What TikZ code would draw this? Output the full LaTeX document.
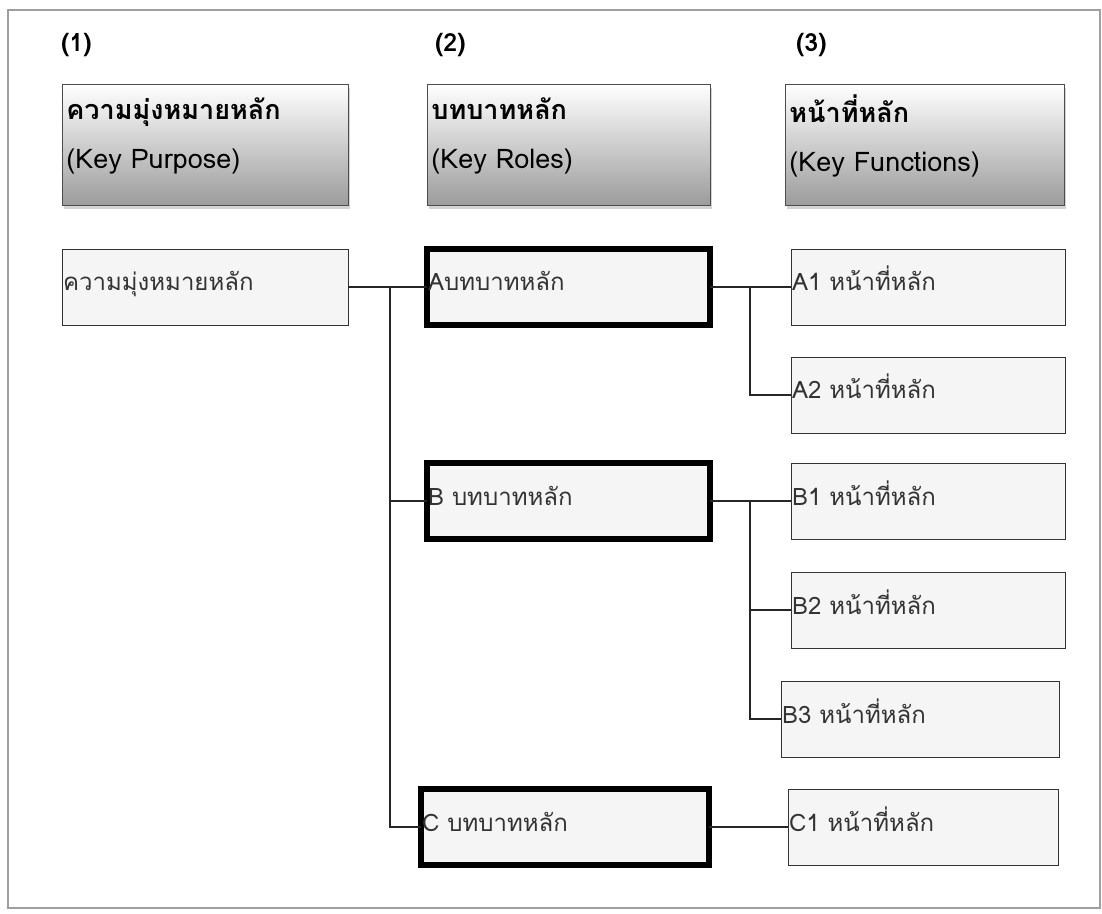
\documentclass[tikz,border=0pt]{standalone}
\usepackage{fontspec}
\setmainfont[Script=Thai]{Loma}
\usetikzlibrary{shadows}

\tikzset{
    head/.style={draw=gray!60!black, top color=white, bottom color=gray!78,
        drop shadow={opacity=0.35, shadow xshift=1pt, shadow yshift=-2pt},
        anchor=north west, minimum height=60.5pt, inner xsep=2pt,
        text width=#1, align=left,
        font=\fontsize{13.5}{24.5}\selectfont},
    item/.style={draw=black!80, fill=gray!8, anchor=north west, outer sep=0pt,
        minimum height=38pt, inner xsep=0.5pt, text width=#1, align=left,
        text height=9pt, text depth=5pt,
        font=\fontsize{12}{15}\selectfont, text=black!80},
    role/.style={item=#1, draw=black, line width=2.6pt},
    link/.style={draw=black!85, line width=0.7pt},
}

\begin{document}
\begin{tikzpicture}[x=0.5pt, y=-0.5pt]
    \useasboundingbox (0,0) rectangle (1102,914);
    \draw[gray!75, line width=1pt] (8,10) rectangle (1100,908);

    % column titles
    \node[anchor=west, font=\bfseries\fontsize{12.5}{15}\selectfont] (num1) at (54,45) {(1)};
    \node[anchor=west, font=\bfseries\fontsize{12.5}{15}\selectfont] (num2) at (428,45) {(2)};
    \node[anchor=west, font=\bfseries\fontsize{12.5}{15}\selectfont] (num3) at (789,45) {(3)};

    \node[head=139pt] (headPurpose) at (62,84)
        {\textbf{ความมุ่งหมายหลัก}\\(Key Purpose)\vspace{9pt}};
    \node[head=137.5pt] (headRoles) at (427,84)
        {\textbf{บทบาทหลัก}\\(Key Roles)\vspace{9pt}};
    \node[head=135.5pt] (headFunctions) at (785,84)
        {\textbf{หน้าที่หลัก}\\(Key Functions)\vspace{9pt}};

    % boxes
    \node[item=142pt] (purpose) at (62,249) {ความมุ่งหมายหลัก};

    \node[role=140.5pt] (roleA) at (427,249) {Aบทบาทหลัก};
    \node[role=140.5pt] (roleB) at (427,463) {B บทบาทหลัก};
    \node[role=143pt] (roleC) at (421,789) {C บทบาทหลัก};

    \node[item=136pt] (funA1) at (791,249) {A1 หน้าที่หลัก};
    \node[item=136pt] (funA2) at (791,357) {A2 หน้าที่หลัก};
    \node[item=136pt] (funB1) at (791,463) {B1 หน้าที่หลัก};
    \node[item=136pt] (funB2) at (791,572) {B2 หน้าที่หลัก};
    \node[item=138pt] (funB3) at (781,681) {B3 หน้าที่หลัก};
    \node[item=134pt] (funC1) at (788,789) {C1 หน้าที่หลัก};

    % connectors
    \draw[link] (purpose.east) -- (roleA.west);
    \draw[link] (purpose.east) -- ++(42,0) |- (roleB.west);
    \draw[link] (purpose.east) -- ++(42,0) |- (roleC.west);

    \draw[link] (roleA.east) -- (funA1.west);
    \draw[link] (roleA.east) -- ++(40,0) |- (funA2.west);

    \draw[link] (roleB.east) -- (funB1.west);
    \draw[link] (roleB.east) -- ++(40,0) |- (funB2.west);
    \draw[link] (roleB.east) -- ++(40,0) |- (funB3.west);

    \draw[link] (roleC.east) -- (funC1.west);
\end{tikzpicture}
\end{document}
